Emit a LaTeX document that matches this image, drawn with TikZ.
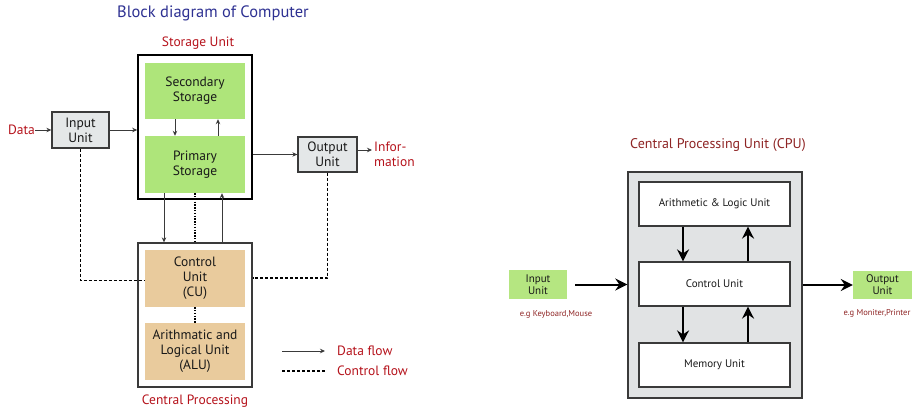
\documentclass[tikz,border=0pt]{standalone}
\usepackage{fontspec}
\setmainfont{PT Sans}
\usetikzlibrary{arrows.meta,calc}
\definecolor{navy}{HTML}{2E3192}
\definecolor{lred}{HTML}{B5121B}
\definecolor{maroon}{HTML}{8E2424}
\definecolor{lgreen}{HTML}{AEE57A}
\definecolor{rgreen}{HTML}{B5E681}
\definecolor{tan}{HTML}{E9CB9D}
\definecolor{lgray}{HTML}{E4E7E8}
\definecolor{bgray}{HTML}{E1E3E4}
\definecolor{edge}{HTML}{3A3A3A}
\tikzset{
  lbl/.style={font=\fontsize{13.5}{15}\selectfont, align=center, text=black!90, inner sep=0pt},
  gbox/.style={rectangle, fill=lgreen, draw=none, lbl},
  tbox/.style={rectangle, fill=tan, draw=none, lbl},
  iobox/.style={rectangle, fill=lgray, draw=edge, line width=1.3pt, lbl},
  outer/.style={rectangle, draw=black, line width=1.6pt, inner sep=0pt},
  outerg/.style={rectangle, draw=edge, line width=1.3pt, inner sep=0pt},
  data/.style={line width=0.8pt, draw=edge, -{Stealth[length=5pt,width=4.5pt]}},
  ctrl/.style={line width=1.7pt, dash pattern=on 3pt off 2pt},
  dots/.style={line width=1.1pt, dash pattern=on 1.3pt off 1.5pt},
  redtxt/.style={text=lred, font=\fontsize{13.5}{15}\selectfont, inner sep=0pt},
  rbox/.style={rectangle, fill=white, draw=edge, line width=1.2pt, font=\fontsize{11}{13}\selectfont, text=black!90, inner sep=0pt},
  rgbox/.style={rectangle, fill=rgreen, draw=none, font=\fontsize{11}{12}\selectfont, align=center, text=black!90, inner sep=0pt},
  bigarr/.style={line width=2pt, -{Stealth[length=12pt,width=12pt,inset=4pt]}},
  eg/.style={text=maroon, font=\fontsize{8.5}{10}\selectfont, inner sep=0pt}
}
\begin{document}
\begin{tikzpicture}[x=1pt,y=-1pt]
\useasboundingbox (0,0) rectangle (916,409);
% ---------- left diagram ----------
\node[text=navy, font=\fontsize{16.5}{18}\selectfont, inner sep=0pt] (title) at (213,13) {Block diagram of Computer};
\node[redtxt] (stlbl) at (198,43) {Storage Unit};
\node[outer, minimum width=114pt, minimum height=144pt] (stor) at (195,127) {};
\node[gbox, minimum width=100pt, minimum height=56pt] (sec) at (195,91) {Secondary\\Storage};
\node[gbox, minimum width=100pt, minimum height=57pt] (prim) at (195,164.5) {Primary\\Storage};
\node[iobox, minimum width=57pt, minimum height=36pt] (inp) at (80.5,130) {Input\\Unit};
\node[iobox, minimum width=59pt, minimum height=35pt] (out) at (327.5,154.5) {Output\\Unit};
\node[redtxt, anchor=east] (data) at (35,130) {Data};
\node[redtxt, anchor=west, align=left] (info) at (374,154) {Infor-\\mation};
\coordinate (infoarr) at (372,150);

\node[outerg, minimum width=114pt, minimum height=144pt] (cpu) at (195,315) {};
\node[tbox, minimum width=100pt, minimum height=57pt] (cu) at (195,278.5) {Control\\Unit\\(CU)};
\node[tbox, minimum width=100pt, minimum height=57pt] (alu) at (195,351.5) {Arithmatic and\\Logical Unit\\(ALU)};
\node[redtxt] (cplbl) at (195,401) {Central Processing};

\draw[data] ($(sec.south)+(-20,0)$) -- ($(prim.north)+(-20,0)$);
\draw[data] ($(prim.north)+(23,0)$) -- ($(sec.south)+(23,0)$);
\draw[data] (data.east) -- (inp.west);
\draw[data] (inp.east) -- (stor.west |- inp.east);
\draw[data] (stor.east |- out.west) -- (out.west);
\draw[data] ($(out.east)+(0,-4.5)$) -- (infoarr);
\draw[data] ($(prim.south)+(-31,0)$) -- ($(cpu.north)+(-31,0)$);
\draw[data] ($(cpu.north)+(27,0)$) -- ($(prim.south)+(27,0)$);
\draw[dots] (prim.south) -- (cpu.north);
\draw[dots] (cu.south) -- (alu.north);
\draw[ctrl] (inp.south) |- ($(cu.west)+(0,2)$);
\draw[ctrl] (out.south) |- ($(cpu.east)+(0,-37)$);

\coordinate (l1a) at (282,351);
\coordinate (l1b) at (325,351);
\coordinate (l2a) at (282,371);
\coordinate (l2b) at (325,371);
\draw[data] (l1a) -- (l1b);
\draw[ctrl] (l2a) -- (l2b);
\node[redtxt, anchor=west] (dflow) at (337,351) {Data flow};
\node[redtxt, anchor=west] (cflow) at (337,371) {Control flow};

% ---------- right diagram ----------
\node[text=maroon, font=\fontsize{14}{16}\selectfont, inner sep=0pt] (rtitle) at (718,145) {Central Processing Unit (CPU)};
\node[rectangle, fill=bgray, draw=edge, line width=1.4pt, minimum width=174pt, minimum height=226pt] (rcpu) at (715,285) {};
\node[rbox, minimum width=151pt, minimum height=44pt] (ralu) at (714.5,204) {Arithmetic \& Logic Unit};
\node[rbox, minimum width=151pt, minimum height=44pt] (rcu) at (714.5,284) {Control Unit};
\node[rbox, minimum width=151pt, minimum height=44pt] (rmu) at (714.5,365) {Memory Unit};
\node[rgbox, minimum width=58pt, minimum height=29pt] (rin) at (538,284.5) {Input\\Unit};
\node[rgbox, minimum width=59pt, minimum height=28pt] (rout) at (882.5,285) {Output\\Unit};
\node[eg] (eg1) at (556,314) {e.g Keyboard,Mouse};
\node[eg] (eg2) at (877,313) {e.g Moniter,Printer};

\draw[bigarr] ($(ralu.south)+(-31.5,0)$) -- ($(rcu.north)+(-31.5,0)$);
\draw[bigarr] ($(rcu.north)+(33.5,0)$) -- ($(ralu.south)+(33.5,0)$);
\draw[bigarr] ($(rcu.south)+(-31.5,0)$) -- ($(rmu.north)+(-31.5,0)$);
\draw[bigarr] ($(rmu.north)+(33.5,0)$) -- ($(rcu.south)+(33.5,0)$);
\draw[bigarr] ($(rin.east)+(8,0)$) -- (rcpu.west |- rin.east);
\draw[bigarr] (rcpu.east |- rout.west) -- (rout.west);
\end{tikzpicture}
\end{document}
